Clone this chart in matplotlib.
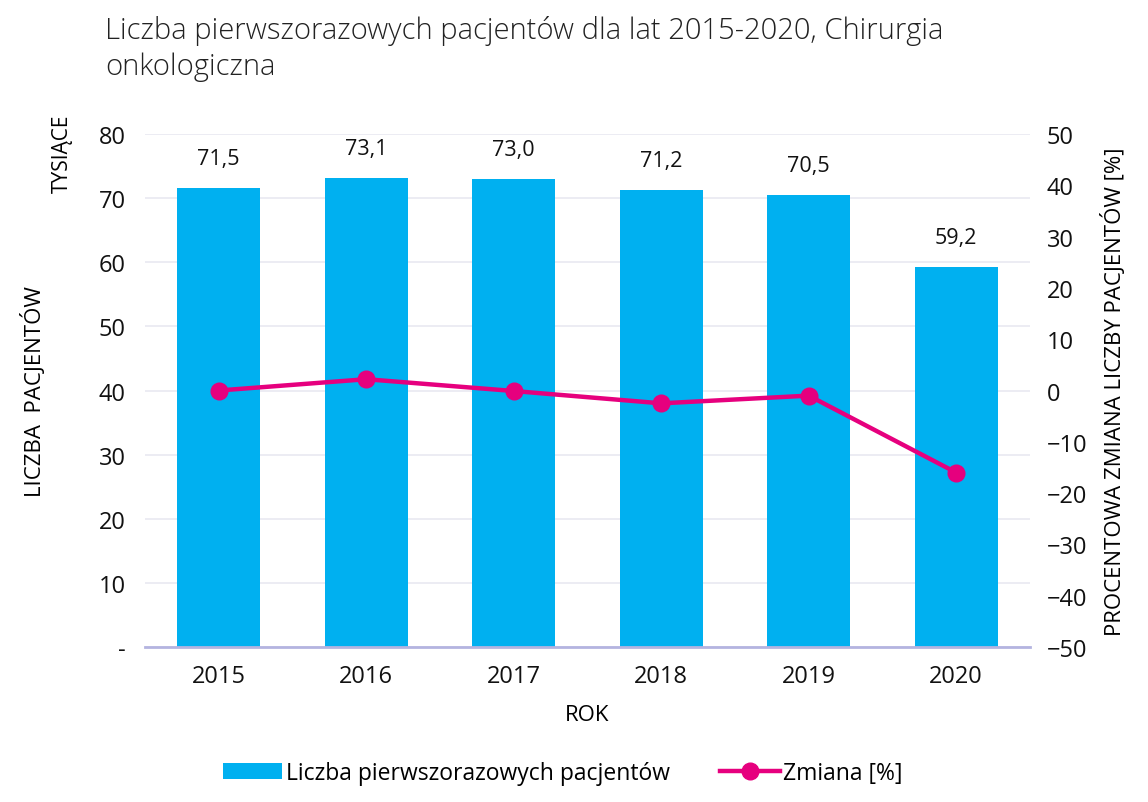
import matplotlib.pyplot as plt

years = ["2015", "2016", "2017", "2018", "2019", "2020"]
patients = [71.5, 73.1, 73.0, 71.2, 70.5, 59.2]   # tysiące
change = [0.0, 2.2, -0.1, -2.5, -1.0, -16.0]       # %
left_ticks = [0, 10, 20, 30, 40, 50, 60, 70, 80]
left_tick_labels = ["-", "10", "20", "30", "40", "50", "60", "70", "80"]
right_ticks = [-50, -40, -30, -20, -10, 0, 10, 20, 30, 40, 50]

bar_color = "#00B0F0"
line_color = "#E6007E"

plt.rcParams["font.family"] = ["Open Sans", "DejaVu Sans"]

fig = plt.figure(figsize=(11.48, 8.03), dpi=100)
ax = fig.add_axes([0.1263, 0.193, 0.7709, 0.6389])

x = list(range(len(years)))
bars = ax.bar(x, patients, width=0.56, color=bar_color,
              label="Liczba pierwszorazowych pacjentów", zorder=2)

for xi, v in zip(x, patients):
    ax.text(xi, v + 3.0, f"{v:.1f}".replace(".", ","), ha="center",
            va="bottom", fontsize=15.5, color="#111111")

ax.set_xlim(-0.5, len(years) - 0.5)
ax.set_ylim(0, 80)
ax.set_yticks(left_ticks)
ax.set_yticklabels(left_tick_labels)
ax.set_xticks(x)
ax.set_xticklabels(years)
ax.grid(axis="y", color="#EBEBF2", linewidth=1.3, zorder=0)
ax.set_axisbelow(True)
for s in ["top", "right", "left"]:
    ax.spines[s].set_visible(False)
ax.spines["bottom"].set_color("#B4B4E0")
ax.spines["bottom"].set_linewidth(2)
ax.tick_params(length=0, labelsize=17, colors="#111111")
ax.tick_params(axis="x", pad=12)
ax.tick_params(axis="y", pad=14)

ax.set_xlabel("ROK", fontsize=16, labelpad=12)
ax.set_ylabel("LICZBA  PACJENTÓW", fontsize=16, labelpad=38)
fig.text(0.054, 0.857, "TYSIĄCE", rotation=90, ha="center", va="top",
         fontsize=15)

ax2 = ax.twinx()
ax2.plot(x, change, color=line_color, linewidth=3.2, marker="o",
         markersize=12, label="Zmiana [%]", zorder=3)
ax2.set_ylim(-50, 50)
ax2.set_yticks(right_ticks)
for s in ax2.spines.values():
    s.set_visible(False)
ax2.tick_params(length=0, labelsize=17, colors="#111111", pad=12)
ax2.set_ylabel("PROCENTOWA ZMIANA LICZBY PACJENTÓW [%]", fontsize=16,
               labelpad=10)

fig.text(0.0915, 0.98, "Liczba pierwszorazowych pacjentów dla lat 2015-2020, Chirurgia\nonkologiczna",
         ha="left", va="top", fontsize=21, fontweight="light", linespacing=1.3,
         color="#222222")

h1, l1 = ax.get_legend_handles_labels()
h2, l2 = ax2.get_legend_handles_labels()
fig.legend(h1 + h2, l1 + l2, loc="lower center", ncol=2, frameon=False,
           bbox_to_anchor=(0.49, -0.005), fontsize=16.5, handlelength=2.6,
           columnspacing=2.2, handletextpad=0.15)

plt.savefig("out.png", dpi=100)
